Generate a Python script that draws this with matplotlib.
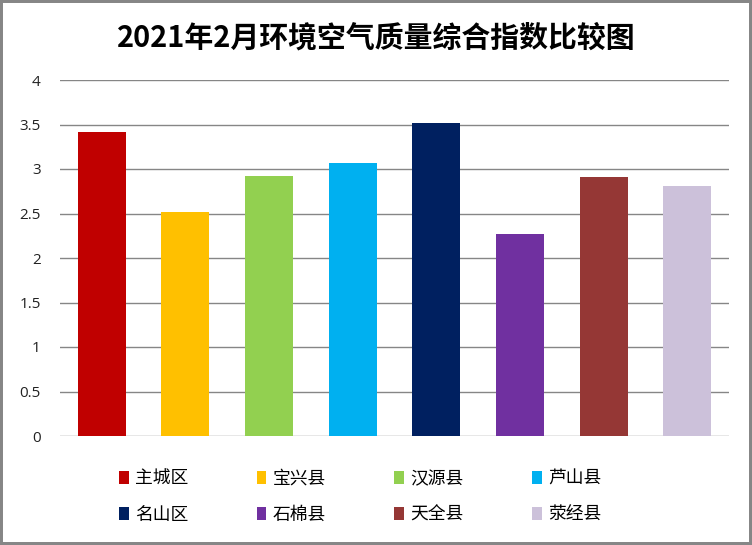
import matplotlib
matplotlib.use("Agg")
import matplotlib.pyplot as plt
from matplotlib.patches import Patch, Rectangle

plt.rcParams['font.family'] = ['Noto Sans CJK SC', 'DejaVu Sans']

# data
districts = ['主城区', '宝兴县', '汉源县', '芦山县', '名山区', '石棉县', '天全县', '荥经县']
index_values = [3.42, 2.52, 2.92, 3.07, 3.52, 2.27, 2.91, 2.81]
bar_colors = ['#C00000', '#FFC000', '#92D050', '#00B0F0',
              '#002060', '#7030A0', '#953735', '#CCC1DA']
yticks = [0, 0.5, 1, 1.5, 2, 2.5, 3, 3.5, 4]
ytick_labels = ['0', '0.5', '1', '1.5', '2', '2.5', '3', '3.5', '4']
title = '2021年2月环境空气质量综合指数比较图'

W, H = 752, 545
fig = plt.figure(figsize=(W / 100, H / 100), dpi=100)
ax = fig.add_axes([60 / W, 1 - 436 / H, (729 - 60) / W, (436 - 80) / H])

x = list(range(len(districts)))
ax.bar(x, index_values, width=0.575, color=bar_colors, zorder=3)

ax.set_xlim(-0.5, len(districts) - 0.5)
ax.set_ylim(0, 4)
ax.set_yticks(yticks)
ax.set_yticklabels(ytick_labels, family=['Open Sans', 'DejaVu Sans'], fontsize=11, color='#222222')
ax.set_xticks([])
ax.tick_params(axis='y', length=0, pad=14)
ax.grid(axis='y', color='#868686', linewidth=1.0, zorder=0)
for s in ax.spines.values():
    s.set_visible(False)

fig.text(376 / W, 1 - 38 / H, title, ha='center', va='center',
         fontsize=20.8, fontweight='bold', color='black')

# legend fills column by column, so reorder to read row by row (4 per row)
ncol = 4
order = [r * ncol + c for c in range(ncol) for r in range(2)]
handles = [Patch(facecolor=bar_colors[i], edgecolor='none') for i in order]
labels = [districts[i] for i in order]
fig.legend(handles, labels, loc='upper left', bbox_to_anchor=(119 / W, 1 - 470 / H),
           ncol=ncol, frameon=False, fontsize=12.8, handlelength=0.55, handleheight=0.75,
           handletextpad=0.35, columnspacing=3.85, labelspacing=1.0,
           borderpad=0, borderaxespad=0)

# gray outer frame
fig.patches.append(Rectangle((0, 0), 1, 1, transform=fig.transFigure, fill=False,
                             edgecolor='#868686', linewidth=4.3))

fig.savefig('out.png', dpi=100)
